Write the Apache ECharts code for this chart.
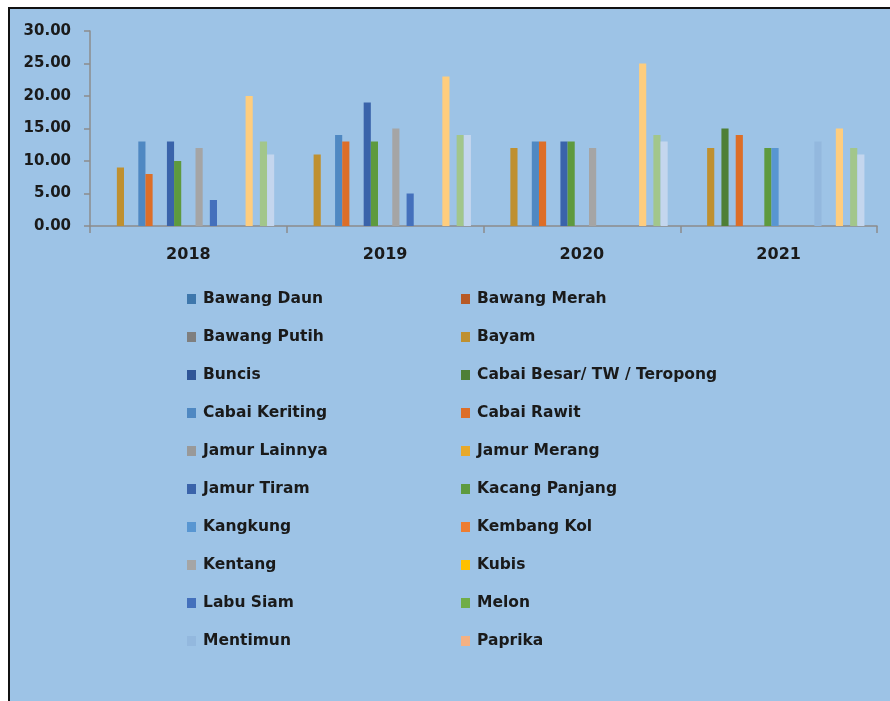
<!DOCTYPE html>
<html>
<head>
<meta charset="utf-8">
<script src="https://cdn.jsdelivr.net/npm/echarts@6/dist/echarts.min.js"></script>
<style>
  html, body { margin: 0; padding: 0; background: #fff; }
  #chart { width: 890px; height: 701px; }
</style>
</head>
<body>
<div id="chart"></div>
<script>
const years = ['2018', '2019', '2020', '2021'];
const yTicks = [0, 5, 10, 15, 20, 25, 30];

// series in plotting order (only the first 20 appear in the legend)
const seriesNames = [
    'Bawang Daun', 'Bawang Merah', 'Bawang Putih', 'Bayam', 'Buncis',
    'Cabai Besar/ TW / Teropong', 'Cabai Keriting', 'Cabai Rawit', 'Jamur Lainnya', 'Jamur Merang',
    'Jamur Tiram', 'Kacang Panjang', 'Kangkung', 'Kembang Kol', 'Kentang',
    'Kubis', 'Labu Siam', 'Melon', 'Mentimun', 'Paprika',
    'Petsai/Sawi', 'Semangka', 'Stroberi', 'Terung', 'Tomat', 'Wortel'
];
const legendCount = 20;

const seriesColors = [
    '#3E77AC', '#B85A26', '#7F7F7F', '#BF9030', '#2F5597',
    '#4E7F36', '#4F88C2', '#DD6E28', '#999999', '#E8A92A',
    '#3A63AA', '#5E9A3E', '#5896D2', '#ED7D31', '#A5A5A5',
    '#FFC000', '#4470BC', '#70AD47', '#93B8DE', '#F4B183',
    '#C9C9C9', '#FECD7E', '#8FAADC', '#A2C68B', '#C4D6EE', '#F8CBAD'
];

// values per year (2018..2021), null = no bar
const bayam = [9, 11, 12, 12];
const cabaiBesar = [null, null, null, 15];
const cabaiKeriting = [13, 14, 13, null];
const cabaiRawit = [8, 13, 13, 14];
const jamurTiram = [13, 19, 13, null];
const kacangPanjang = [10, 13, 13, 12];
const kangkung = [null, null, null, 12];
const kentang = [12, 15, 12, null];
const labuSiam = [4, 5, null, null];
const mentimun = [null, null, null, 13];
const semangka = [20, 23, 25, 15];
const terung = [13, 14, 14, 12];
const tomat = [11, 14, 13, 11];
const empty = [null, null, null, null];

const seriesValues = {
    'Bayam': bayam,
    'Cabai Besar/ TW / Teropong': cabaiBesar,
    'Cabai Keriting': cabaiKeriting,
    'Cabai Rawit': cabaiRawit,
    'Jamur Tiram': jamurTiram,
    'Kacang Panjang': kacangPanjang,
    'Kangkung': kangkung,
    'Kentang': kentang,
    'Labu Siam': labuSiam,
    'Mentimun': mentimun,
    'Semangka': semangka,
    'Terung': terung,
    'Tomat': tomat
};

const textColor = '#1a1a1a';
const fontFamily = '"DejaVu Sans", sans-serif';

const legendNames = seriesNames.slice(0, legendCount);
const leftColumn = legendNames.filter((n, i) => i % 2 === 0);
const rightColumn = legendNames.filter((n, i) => i % 2 === 1);

const legendBase = {
    orient: 'vertical',
    top: 284,
    itemWidth: 9,
    itemHeight: 10,
    itemGap: 18,
    icon: 'rect',
    selectedMode: false,
    textStyle: {
        color: textColor,
        fontFamily: fontFamily,
        fontWeight: 'bold',
        fontSize: 15.5,
        lineHeight: 20,
        padding: [0, 0, 0, 2]
    }
};

const chart = echarts.init(document.getElementById('chart'));
chart.setOption({
    backgroundColor: '#fff',
    animation: false,
    graphic: [
        {
            type: 'rect',
            z: -10,
            shape: { x: 9, y: 8, width: 900, height: 720 },
            style: { fill: '#9DC3E6', stroke: '#111', lineWidth: 2 }
        }
    ],
    grid: {
        left: 90,
        right: 13,
        top: 31,
        height: 195
    },
    legend: [
        Object.assign({}, legendBase, { left: 182, data: leftColumn }),
        Object.assign({}, legendBase, { left: 456, data: rightColumn })
    ],
    xAxis: {
        type: 'category',
        data: years,
        axisLine: { lineStyle: { color: '#8C8C8C', width: 1.5 } },
        axisTick: { show: true, length: 7, lineStyle: { color: '#8C8C8C', width: 1.5 } },
        axisLabel: {
            color: textColor,
            fontFamily: fontFamily,
            fontWeight: 'bold',
            fontSize: 16,
            margin: 21
        }
    },
    yAxis: {
        type: 'value',
        min: yTicks[0],
        max: yTicks[yTicks.length - 1],
        interval: 5,
        splitLine: { show: false },
        axisLine: { show: true, lineStyle: { color: '#8C8C8C', width: 1.5 } },
        axisTick: { show: true, length: 6, lineStyle: { color: '#8C8C8C', width: 1.5 } },
        axisLabel: {
            color: textColor,
            fontFamily: fontFamily,
            fontWeight: 'bold',
            fontSize: 15,
            margin: 19,
            formatter: v => v.toFixed(2)
        }
    },
    series: seriesNames.map((name, i) => ({
        name: name,
        type: 'bar',
        data: seriesValues[name] || empty,
        barGap: '0%',
        barCategoryGap: '5.5%',
        itemStyle: { color: seriesColors[i] }
    }))
});
</script>
</body>
</html>
